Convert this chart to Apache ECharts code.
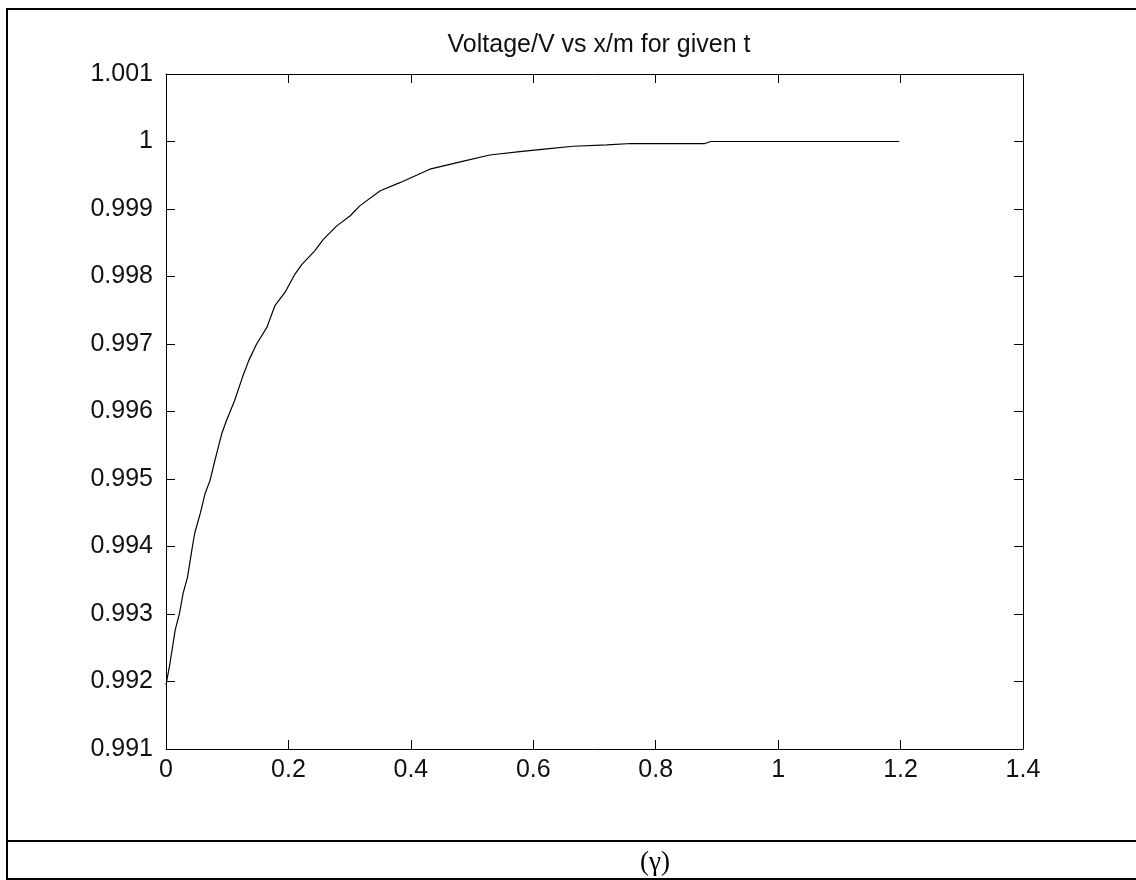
<!DOCTYPE html>
<html>
<head>
<meta charset="utf-8">
<script src="https://cdn.jsdelivr.net/npm/echarts@6/dist/echarts.min.js"></script>
<style>
html,body{margin:0;padding:0;background:#fff;}
#chart{width:1136px;height:880px;}
</style>
</head>
<body>
<div id="chart"></div>
<script>
var titleText = 'Voltage/V vs x/m for given t';
var captionText = '(\u03b3)';
var xTicks = [0, 0.2, 0.4, 0.6, 0.8, 1, 1.2, 1.4];
var yTicks = [0.991, 0.992, 0.993, 0.994, 0.995, 0.996, 0.997, 0.998, 0.999, 1, 1.001];
var xValues = [0, 0.0065, 0.015, 0.022, 0.028, 0.035, 0.043, 0.047, 0.056, 0.064, 0.072, 0.080, 0.091, 0.099, 0.112, 0.125, 0.135, 0.148, 0.165, 0.178, 0.194, 0.211, 0.222, 0.243, 0.257, 0.279, 0.301, 0.317, 0.350, 0.382, 0.431, 0.486, 0.529, 0.578, 0.622, 0.665, 0.72, 0.76, 0.88, 0.89, 1.0, 1.1, 1.198];
var yValues = [0.99195, 0.99227, 0.99276, 0.99301, 0.99331, 0.99354, 0.99399, 0.99420, 0.99449, 0.99479, 0.99498, 0.99528, 0.99567, 0.99587, 0.99616, 0.99651, 0.99675, 0.99700, 0.99725, 0.99757, 0.99776, 0.99804, 0.99818, 0.99838, 0.99855, 0.99875, 0.99890, 0.99905, 0.99927, 0.99939, 0.99959, 0.99971, 0.99980, 0.99985, 0.99989, 0.99993, 0.99995, 0.99997, 0.99997, 1.0, 1.0, 1.0, 1.0];

var seriesData = xValues.map(function (x, i) { return [x, yValues[i]]; });

var chart = echarts.init(document.getElementById('chart'));
var FONT = '"Liberation Sans", Arial, sans-serif';
var fmtY = function (v) { return String(parseFloat(v.toFixed(3))); };
var fmtX = function (v) { return String(parseFloat(v.toFixed(1))); };
var tickStyle = { show: true, inside: true, length: 9, lineStyle: { color: '#000', width: 1 } };
var lineStyle = { show: true, onZero: false, lineStyle: { color: '#000', width: 1 } };

chart.setOption({
  animation: false,
  backgroundColor: '#fff',
  title: {
    text: titleText,
    left: 594, top: 28, textAlign: 'center',
    textStyle: { fontFamily: FONT, fontSize: 25, fontWeight: 'normal', color: '#111' }
  },
  grid: { left: 166, top: 74, width: 857, height: 675, containLabel: false },
  xAxis: [{
    type: 'value', position: 'bottom',
    min: xTicks[0], max: xTicks[xTicks.length - 1], interval: 0.2,
    axisLine: lineStyle, axisTick: tickStyle, splitLine: { show: false },
    axisLabel: { margin: 9, fontFamily: FONT, fontSize: 25, color: '#111', formatter: fmtX }
  }, {
    type: 'value', position: 'top',
    min: xTicks[0], max: xTicks[xTicks.length - 1], interval: 0.2,
    axisLine: lineStyle, axisTick: tickStyle, splitLine: { show: false },
    axisLabel: { show: false }
  }],
  yAxis: [{
    type: 'value', position: 'left',
    min: yTicks[0], max: yTicks[yTicks.length - 1], interval: 0.001,
    axisLine: lineStyle, axisTick: tickStyle, splitLine: { show: false },
    axisLabel: { margin: 13, fontFamily: FONT, fontSize: 25, color: '#111', formatter: fmtY }
  }, {
    type: 'value', position: 'right',
    min: yTicks[0], max: yTicks[yTicks.length - 1], interval: 0.001,
    axisLine: lineStyle, axisTick: tickStyle, splitLine: { show: false },
    axisLabel: { show: false }
  }],
  series: [{
    type: 'line',
    xAxisIndex: 0, yAxisIndex: 0,
    data: seriesData,
    showSymbol: false,
    smooth: false,
    lineStyle: { color: '#000', width: 1.2 }
  }],
  graphic: [
    { type: 'line', shape: { x1: 7, y1: 8, x2: 7, y2: 880 }, style: { stroke: '#000', lineWidth: 2 } },
    { type: 'line', shape: { x1: 6, y1: 9, x2: 1136, y2: 9 }, style: { stroke: '#000', lineWidth: 2 } },
    { type: 'line', shape: { x1: 6, y1: 841, x2: 1136, y2: 841 }, style: { stroke: '#000', lineWidth: 2 } },
    { type: 'line', shape: { x1: 6, y1: 879, x2: 1136, y2: 879 }, style: { stroke: '#000', lineWidth: 2 } },
    { type: 'text', x: 655, y: 849, style: { text: captionText, fontFamily: '"Liberation Serif", "Times New Roman", serif', fontSize: 27, fill: '#000', textAlign: 'center', textVerticalAlign: 'top' } }
  ]
});
</script>
</body>
</html>
